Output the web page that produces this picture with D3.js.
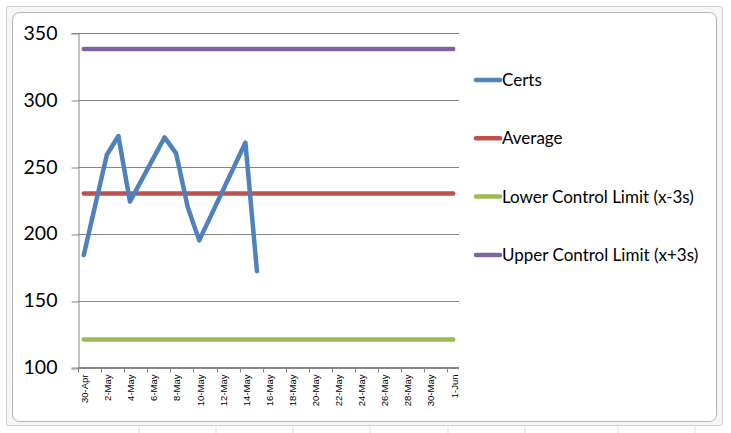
<!DOCTYPE html>
<html>
<head>
    <meta charset="utf-8">
    <script src="https://d3js.org/d3.v7.min.js"></script>
    <style>
        body { margin: 0; background: #fff; }
    </style>
</head>
<body>
    <svg id="chart" width="731" height="433"></svg>

    <script>
        // data
        const certDates = ["2012-04-30", "2012-05-02", "2012-05-03", "2012-05-04", "2012-05-07",
                           "2012-05-08", "2012-05-09", "2012-05-10", "2012-05-14", "2012-05-15"];
        const certValues = [184, 259, 273, 224, 272, 260, 220, 195, 268, 172];
        const axisStart = "2012-04-30", axisEnd = "2012-06-01";
        const averageValue = 230;
        const lowerLimit = 121;
        const upperLimit = 338;
        const yTicks = [100, 150, 200, 250, 300, 350];
        const seriesNames = ["Certs", "Average", "Lower Control Limit (x-3s)", "Upper Control Limit (x+3s)"];
        const seriesColors = ["#4f81bd", "#c0504d", "#9bbb59", "#8064a2"];

        const svg = d3.select("#chart");
        const parse = d3.timeParse("%Y-%m-%d");
        const halfDay = d => d3.timeHour.offset(d, 12);

        // sheet cell lines below the chart
        [139, 216, 293, 370, 448, 525, 618, 695].forEach(x => {
            svg.append("line").attr("x1", x).attr("x2", x).attr("y1", 424).attr("y2", 433)
                .attr("stroke", "#e0e0e0");
        });

        // chart frame
        svg.append("rect").attr("x", 6.5).attr("y", 6.5).attr("width", 716).attr("height", 419)
            .attr("fill", "#f6f6f6").attr("stroke", "#d0d0d0").attr("rx", 2);
        svg.append("rect").attr("x", 12.5).attr("y", 12.5).attr("width", 704).attr("height", 409)
            .attr("fill", "#fff").attr("stroke", "#b4b4b4").attr("rx", 7);

        const plotLeft = 78, plotRight = 459, plotTop = 33, plotBottom = 367.5;

        const x = d3.scaleTime()
            .domain([parse(axisStart), d3.timeDay.offset(parse(axisEnd), 1)])
            .range([plotLeft, plotRight]);
        const y = d3.scaleLinear().domain([100, 350]).range([plotBottom, plotTop]);

        // gridlines
        svg.append("g").selectAll("line").data(yTicks).join("line")
            .attr("x1", plotLeft).attr("x2", plotRight)
            .attr("y1", d => Math.round(y(d)) + 0.5).attr("y2", d => Math.round(y(d)) + 0.5)
            .attr("stroke", "#868686");

        // y axis
        const yAxis = svg.append("g").attr("transform", `translate(${plotLeft + 0.5},0)`)
            .call(d3.axisLeft(y).tickValues(yTicks).tickSize(7).tickPadding(14).tickFormat(d3.format("d")));
        yAxis.select(".domain").attr("stroke", "#868686");
        yAxis.selectAll(".tick line").attr("stroke", "#868686")
            .attr("transform", d => `translate(0,${Math.round(y(d)) + 0.5 - y(d)})`);
        yAxis.selectAll("text").attr("font-family", "Lato, 'Open Sans', sans-serif")
            .attr("font-size", 19.5).attr("fill", "#000");

        // x axis: ticks every two days from the first day, labels centred in each day
        const tickDays = d3.timeDay.range(parse(axisStart), d3.timeDay.offset(parse(axisEnd), 1), 2);
        const xg = svg.append("g").attr("transform", `translate(0,${plotBottom})`);
        xg.append("line").attr("x1", plotLeft).attr("x2", plotRight).attr("stroke", "#868686");
        xg.selectAll("line.tick").data(tickDays).join("line").attr("class", "tick")
            .attr("x1", d => Math.round(x(d)) + 0.5).attr("x2", d => Math.round(x(d)) + 0.5)
            .attr("y1", 0).attr("y2", 5).attr("stroke", "#868686");
        const fmt = d => d3.timeFormat("%-d")(d) + "-" + d3.timeFormat("%b")(d);
        xg.selectAll("text").data(tickDays).join("text")
            .attr("transform", d => `translate(${x(halfDay(d)) + 1},7) rotate(-90)`)
            .attr("text-anchor", "end").attr("dy", "0.35em")
            .attr("font-family", "'Liberation Sans', Arial, sans-serif").attr("font-size", 9.5)
            .attr("fill", "#000")
            .text(fmt);

        // reference lines across every day of the axis
        const firstMid = halfDay(parse(axisStart)), lastMid = halfDay(parse(axisEnd));
        [[upperLimit, 3], [averageValue, 1], [lowerLimit, 2]].forEach(([v, i]) => {
            svg.append("line")
                .attr("x1", x(firstMid)).attr("x2", x(lastMid))
                .attr("y1", y(v)).attr("y2", y(v))
                .attr("stroke", seriesColors[i]).attr("stroke-width", 4.5).attr("stroke-linecap", "round");
        });

        // Certs series
        const certs = certDates.map((d, i) => ({ date: halfDay(parse(d)), value: certValues[i] }));
        svg.append("path").datum(certs)
            .attr("fill", "none").attr("stroke", seriesColors[0]).attr("stroke-width", 4.5)
            .attr("stroke-linecap", "round").attr("stroke-linejoin", "round")
            .attr("d", d3.line().x(d => x(d.date)).y(d => y(d.value)));

        // legend
        const legend = svg.append("g").selectAll("g").data(seriesNames).join("g")
            .attr("transform", (d, i) => `translate(475,${80 + i * 58.3})`);
        legend.append("line").attr("x1", 1).attr("x2", 25)
            .attr("stroke", (d, i) => seriesColors[i]).attr("stroke-width", 4.5).attr("stroke-linecap", "round");
        legend.append("text").attr("x", 27).attr("dy", "0.35em")
            .attr("font-family", "Lato, 'Open Sans', sans-serif").attr("font-size", 17).attr("fill", "#000")
            .text(d => d);
    </script>
</body>
</html>
